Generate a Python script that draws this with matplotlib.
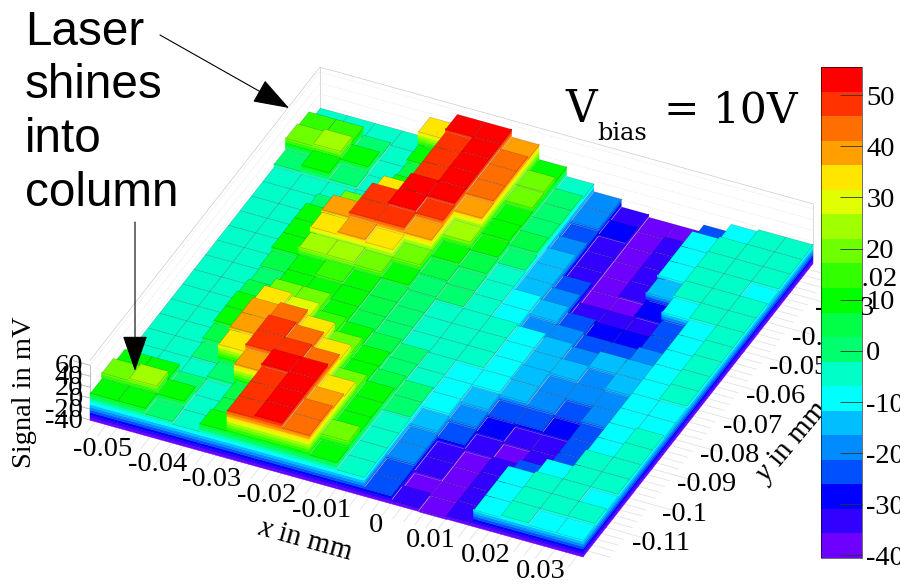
import numpy as np
import matplotlib
matplotlib.use("Agg")
import matplotlib.pyplot as plt
from matplotlib.cm import ScalarMappable
from matplotlib.colors import BoundaryNorm, ListedColormap
from matplotlib.patches import FancyArrowPatch
from mpl_toolkits.mplot3d import proj3d
from mpl_toolkits.mplot3d.art3d import Poly3DCollection

plt.rcParams['font.family'] = ['Liberation Serif', 'DejaVu Serif']
plt.rcParams['axes.unicode_minus'] = False
plt.rcParams['mathtext.fontset'] = 'custom'
plt.rcParams['mathtext.rm'] = 'Liberation Serif'
plt.rcParams['mathtext.it'] = 'Liberation Serif:italic'

# signal in mV, first line is the back row (y = -0.025), last line the front row
signal_rows = [
    [-5, -5, -5, -5, 34, 53, 53, 39, 12, -5, -19, -33, -38, -38, -24, -9, -5, -5],
    [15, 15, 0, -5, 10, 48, 53, 44, 20, 0, -19, -30, -38, -33, -9, -5, -5, -5],
    [20, 24, 10, -5, 5, 48, 53, 44, 18, 0, -24, -33, -38, -33, -9, -5, -5, -5],
    [0, 12, 0, -5, 10, 48, 53, 44, 10, 2, -19, -33, -38, -33, -9, -5, -5, -9],
    [-5, -5, -5, -5, 34, 53, 53, 39, 12, 4, -14, -33, -38, -33, -14, -5, -5, -5],
    [-5, -5, 0, 20, 48, 53, 48, 22, 8, -2, -14, -24, -38, -38, -28, -9, -5, -5],
    [-5, -5, 10, 39, 48, 48, 39, 10, 5, -5, -14, -19, -33, -33, -33, -24, -9, -5],
    [-5, -5, 10, 34, 39, 34, 20, 5, 0, -5, -9, -14, -24, -28, -28, -24, -9, -5],
    [-5, -5, 10, 24, 24, 20, 10, 2, -2, -5, -9, -19, -19, -24, -24, -19, -9, -5],
    [-5, -5, 3, 10, 15, 10, 5, 0, -5, -5, -5, -9, -14, -19, -14, -14, -9, -5],
    [-5, -5, 0, 10, 10, 10, 5, 0, -5, -5, -5, -9, -14, -14, -19, -14, -9, -5],
    [-5, -5, 5, 20, 20, 10, 5, 0, -5, -5, -5, -9, -12, -19, -19, -19, -9, -9],
    [-5, -5, 10, 34, 29, 17, 10, 5, -2, -5, -9, -9, -14, -19, -24, -19, -9, -9],
    [-5, -5, 10, 39, 44, 34, 20, 8, 0, -5, -9, -14, -24, -24, -28, -24, -9, -5],
    [-5, -5, 5, 39, 48, 44, 34, 10, 5, -2, -9, -19, -28, -33, -33, -24, -9, -5],
    [-5, -5, -2, 34, 48, 48, 44, 20, 10, -2, -14, -24, -33, -38, -33, -24, -5, -5],
    [-5, -5, -5, 2, 39, 53, 53, 34, 10, -5, -19, -33, -38, -33, -24, -9, -5, -5],
    [10, 10, -2, -5, 5, 48, 53, 39, 10, -5, -19, -33, -38, -33, -9, -5, -5, -9],
    [20, 24, 10, -5, 5, 48, 53, 44, 20, -5, -24, -38, -38, -33, -9, -5, -5, -5],
    [10, 10, 0, -5, 10, 48, 53, 44, 8, -5, -24, -33, -38, -33, -9, -5, -9, -9],
]
band_colors = ['#6e00ff', '#3200ff', '#0000ff', '#0050ff', '#008cff', '#00beff', '#00ffff',
               '#00ffc8', '#00ff6e', '#00ff46', '#00ff00', '#32ff00', '#6eff00', '#a0ff00',
               '#e1ff00', '#ffe600', '#ffa000', '#ff6e00', '#ff3200', '#ff0000']
x_ticks = [-0.05, -0.04, -0.03, -0.02, -0.01, 0, 0.01, 0.02, 0.03]
y_ticks = [-0.11, -0.1, -0.09, -0.08, -0.07, -0.06, -0.05, -0.04, -0.03, -0.02]
z_ticks = [-40, -20, 0, 20, 40, 60]
bar_ticks = [-40, -30, -20, -10, 0, 10, 20, 30, 40, 50]
note_lines = ['Laser', 'shines', 'into', 'column']

signal = np.array(signal_rows[::-1], dtype=float)
x_edges = np.linspace(-0.055, 0.035, signal.shape[1] + 1)
y_edges = np.linspace(-0.12, -0.02, signal.shape[0] + 1)
z_edges = np.linspace(-40.5, 55.5, len(band_colors) + 1)
z_bottom, z_top = z_edges[0], 69
W, H = 900, 584


def fig_xy(px, py):
    return px / W, 1 - py / H


fig = plt.figure(figsize=(W / 100, H / 100), dpi=100)
ax = fig.add_axes([0, (H - W) / 2 / H, 1, W / H], projection='3d', proj_type='ortho',
                  computed_zorder=False)
ax.set_axis_off()
ax.set_xlim(x_edges[0], x_edges[-1], view_margin=0)
ax.set_ylim(y_edges[0], y_edges[-1], view_margin=0)
ax.set_zlim(z_bottom, z_top, view_margin=0)
ax.view_init(elev=36.5, azim=-65)
ax.set_box_aspect((1, 1, 0.137), zoom=0.83)


def to_px(x, y, z):
    ax.apply_aspect()
    xs, ys, _ = proj3d.proj_transform(x, y, z, ax.get_proj())
    px, py = ax.transData.transform((xs, ys))
    return px, H - py


# fit the box to the reference: front corners at (90,420) and (583,557)
p0 = np.array(to_px(x_edges[0], y_edges[0], -40))
p1 = np.array(to_px(x_edges[-1], y_edges[0], -40))
ax.set_box_aspect((1, 1, 0.137), zoom=0.83 * 493 / (p1[0] - p0[0]))
p0 = np.array(to_px(x_edges[0], y_edges[0], -40))
pos = ax.get_position(original=True)
ax.set_position([pos.x0 + (90 - p0[0]) / W, pos.y0 + (p0[1] - 420) / H, pos.width, pos.height])

# back walls and floor ticks
wall = dict(color='#cccccc', lw=0.5, zorder=0)
ax.plot([x_edges[0], x_edges[0], x_edges[-1]], [y_edges[0], y_edges[-1], y_edges[-1]],
        [z_top, z_top, z_top], **wall)
ax.plot([x_edges[0], x_edges[0]], [y_edges[-1], y_edges[-1]], [z_bottom, z_top], **wall)
ax.plot([x_edges[-1], x_edges[-1]], [y_edges[-1], y_edges[-1]], [z_bottom, z_top], **wall)
ax.plot([x_edges[0], x_edges[0]], [y_edges[0], y_edges[-1]], [z_bottom, z_bottom], **wall)
dots = dict(color='#dddddd', lw=0.5, ls=':', zorder=0)
for z in np.arange(-20, 61, 20):
    ax.plot([x_edges[0], x_edges[0], x_edges[-1]], [y_edges[0], y_edges[-1], y_edges[-1]],
            [z, z, z], **dots)
marks = dict(color='#e2e2e2', lw=0.6, zorder=0)
for tx in np.arange(-0.054, 0.035, 0.002):
    size = 0.008 if np.isclose(tx * 100, round(tx * 100)) else 0.004
    ax.plot([tx, tx], [y_edges[0] - size, y_edges[0]], [-40, -40], **marks)
for ty in np.arange(-0.118, -0.02, 0.002):
    size = 0.008 if np.isclose(ty * 100, round(ty * 100)) else 0.004
    ax.plot([x_edges[-1], x_edges[-1] + size], [ty, ty], [-40, -40], **marks)
ax.plot([x_edges[0], x_edges[0]], [y_edges[0], y_edges[0]], [-40, 60], color='#b4b4b4', lw=0.6,
        zorder=0)
for tz in np.arange(-40, 61, 20):
    ax.plot([x_edges[0] - 0.003, x_edges[0]], [y_edges[0], y_edges[0]], [tz, tz],
            color='#b4b4b4', lw=0.6, zorder=0)


def wall_bands(level_from, level_to):
    out = []
    for k in range(len(band_colors)):
        lo = max(z_edges[k], level_from)
        hi = min(z_edges[k + 1], level_to)
        if hi > lo:
            out.append((lo, hi, band_colors[k]))
    return out


# painter's order: back rows first, low x first
order = 1
for j in range(signal.shape[0] - 1, -1, -1):
    for i in range(signal.shape[1]):
        v = signal[j, i]
        x0, x1 = x_edges[i], x_edges[i + 1]
        y0, y1 = y_edges[j], y_edges[j + 1]
        right = signal[j, i + 1] if i + 1 < signal.shape[1] else z_bottom
        front = signal[j - 1, i] if j > 0 else z_bottom
        verts, cols = [], []
        for lo, hi, col in wall_bands(right, v):
            verts.append([(x1, y0, lo), (x1, y1, lo), (x1, y1, hi), (x1, y0, hi)])
            cols.append(col)
        for lo, hi, col in wall_bands(front, v):
            verts.append([(x0, y0, lo), (x1, y0, lo), (x1, y0, hi), (x0, y0, hi)])
            cols.append(col)
        if verts:
            side = Poly3DCollection(verts, facecolors=cols, edgecolors=cols, linewidths=0.3,
                                    zorder=order)
            ax.add_collection3d(side)
        k = int(np.clip(np.digitize(v, z_edges) - 1, 0, len(band_colors) - 1))
        top = Poly3DCollection([[(x0, y0, v), (x1, y0, v), (x1, y1, v), (x0, y1, v)]],
                               facecolors=[band_colors[k]], edgecolors=[(0, 0, 0, 0.25)],
                               linewidths=0.4, zorder=order + 0.5)
        ax.add_collection3d(top)
        order += 1

# tick labels, offset from their axis position in pixels
tick_font = dict(fontsize=20.5, ha='center', va='center', family='Liberation Serif')
for tx in x_ticks:
    px, py = to_px(tx, y_edges[0], -40)
    fig.text(*fig_xy(px - 15, py + 22), f'{tx:g}', **tick_font)
for ty in y_ticks:
    px, py = to_px(x_edges[-1], ty, -40)
    fig.text(*fig_xy(px + 55, py + 16), f'{ty:g}', **tick_font)
for tz in z_ticks:
    px, py = to_px(x_edges[0], y_edges[0], tz)
    fig.text(*fig_xy(px - 7, py + 1), f'{tz:g}', fontsize=20.5, ha='right', va='center',
             family='Liberation Serif')

fig.text(*fig_xy(305, 540), r'$\mathit{x}$ in mm', fontsize=21, rotation=-15.5,
         rotation_mode='anchor', ha='center', va='center')
fig.text(*fig_xy(792, 443), r'$\mathit{y}$ in mm', fontsize=21, rotation=50,
         rotation_mode='anchor', ha='center', va='center')
fig.text(*fig_xy(25, 392), 'Signal in mV', fontsize=20.5, rotation=90, ha='center', va='center')

# colour scale
cax = fig.add_axes([821 / W, 1 - 558 / H, 41 / W, 491 / H], zorder=10)
bar = fig.colorbar(ScalarMappable(BoundaryNorm(z_edges, len(band_colors)),
                                  ListedColormap(band_colors)),
                   cax=cax, ticks=bar_ticks, spacing='proportional')
bar.ax.tick_params(direction='in', length=16, width=0.6, labelsize=20.5, pad=3, which='major',
                   color='#303030')
bar.ax.minorticks_off()
bar.outline.set_linewidth(0.4)
for lab in bar.ax.get_yticklabels():
    lab.set_family('Liberation Serif')

# annotations
fig.text(*fig_xy(565, 122), 'V', fontsize=31.5, family='DejaVu Serif', va='baseline')
fig.text(*fig_xy(597, 140), 'bias', fontsize=17.3, family='DejaVu Serif', va='baseline')
fig.text(*fig_xy(664, 122), '= 10V', fontsize=30.5, family='DejaVu Serif', va='baseline')
for n, line in enumerate(note_lines):
    fig.text(*fig_xy(25, 45 + n * 53.5), line, fontsize=34.3, family='Liberation Sans',
             va='baseline')
for tail, tip in [((160, 35), (289, 108)), ((135, 222), (135, 371))]:
    fig.add_artist(FancyArrowPatch(fig_xy(*tail), fig_xy(*tip), transform=fig.transFigure,
                                   arrowstyle='-|>,head_length=23,head_width=8', mutation_scale=1,
                                   shrinkA=0, shrinkB=0, lw=0.8, color='black', zorder=11))

fig.savefig('out.png', dpi=100)
